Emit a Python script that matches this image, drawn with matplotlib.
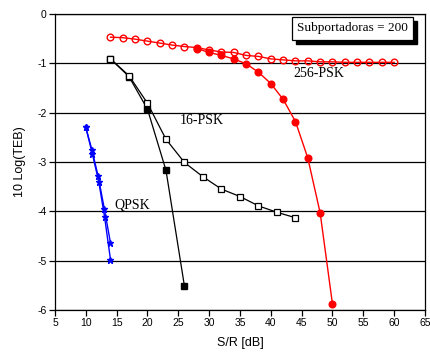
import matplotlib
matplotlib.use("Agg")
import matplotlib.pyplot as plt
from matplotlib.patches import Rectangle

# QPSK (two runs)
qpsk_a_x = [10, 11, 12, 13, 14]
qpsk_a_y = [-2.30, -2.76, -3.29, -3.95, -4.64]
qpsk_b_x = [10, 11.05, 12.1, 13.05, 14]
qpsk_b_y = [-2.30, -2.83, -3.40, -4.12, -4.98]

# 16-PSK
psk16_open_x = [14, 17, 20, 23, 26, 29, 32, 35, 38, 41, 44]
psk16_open_y = [-0.91, -1.25, -1.81, -2.54, -3.01, -3.30, -3.55, -3.70, -3.89, -4.02, -4.13]
psk16_fill_x = [14, 17, 20, 23, 26]
psk16_fill_y = [-0.91, -1.27, -1.93, -3.17, -5.52]

# 256-PSK
psk256_open_x = list(range(14, 61, 2))
psk256_open_y = [-0.47, -0.48, -0.51, -0.55, -0.59, -0.63, -0.66, -0.68, -0.73, -0.77,
                 -0.78, -0.84, -0.86, -0.91, -0.93, -0.95, -0.95, -0.97, -0.97, -0.98,
                 -0.98, -0.98, -0.98, -0.98]
psk256_fill_x = [28, 30, 32, 34, 36, 38, 40, 42, 44, 46, 48, 50]
psk256_fill_y = [-0.70, -0.78, -0.84, -0.91, -1.01, -1.18, -1.41, -1.73, -2.18, -2.92, -4.03, -5.88]

xticks = [5, 10, 15, 20, 25, 30, 35, 40, 45, 50, 55, 60, 65]
yticks = [0, -1, -2, -3, -4, -5, -6]

fig = plt.figure(figsize=(4.31, 3.57), dpi=100)
ax = fig.add_axes([0.1276, 0.1317, 0.8584, 0.8291])
ax.set_xlim(5, 65)
ax.set_ylim(-6, 0)

for yv in yticks:
    ax.axhline(yv, color="black", lw=0.9, zorder=1)

ax.plot(qpsk_a_x, qpsk_a_y, color="blue", marker="*", ms=5, lw=1, zorder=3)
ax.plot(qpsk_b_x, qpsk_b_y, color="blue", marker="*", ms=5, lw=1, zorder=3)

ax.plot(psk16_fill_x, psk16_fill_y, color="black", marker="s", ms=4.5, mfc="black", lw=0.9, zorder=3)
ax.plot(psk16_open_x, psk16_open_y, color="black", marker="s", ms=4.5, mfc="white", mew=0.9, lw=0.9, zorder=4)

ax.plot(psk256_open_x, psk256_open_y, color="red", marker="o", ms=4.8, mfc="none", mew=1, lw=1, zorder=3)
ax.plot(psk256_fill_x, psk256_fill_y, color="red", marker="o", ms=4.8, mfc="red", lw=1, zorder=4)

ax.text(43.6, -1.2, "256-PSK", family="Liberation Serif", fontsize=10, va="center", ha="left")
ax.text(25.3, -2.15, "16-PSK", family="Liberation Serif", fontsize=10, va="center", ha="left")
ax.text(14.7, -3.87, "QPSK", family="Liberation Serif", fontsize=10, va="center", ha="left")

# box with shadow
bx0, by0, bw, bh = 292, 17, 121, 23
H = 357
shadow = Rectangle(((bx0 + 4) / 431, 1 - (by0 + bh + 4) / H), bw / 431, bh / H,
                   transform=fig.transFigure, facecolor="black", edgecolor="black", zorder=5)
box = Rectangle((bx0 / 431, 1 - (by0 + bh) / H), bw / 431, bh / H,
                transform=fig.transFigure, facecolor="white", edgecolor="black", lw=0.9, zorder=6)
fig.add_artist(shadow)
fig.add_artist(box)
fig.text((bx0 + bw / 2) / 431, 1 - (by0 + bh / 2) / H, "Subportadoras = 200",
         family="Liberation Serif", fontsize=9.5, ha="center", va="center", zorder=7)

ax.set_xticks(xticks)
ax.set_yticks(yticks)
ax.set_xticklabels([str(v) for v in xticks], family="Liberation Sans", fontsize=7.5)
ax.set_yticklabels([str(v) for v in yticks], family="Liberation Sans", fontsize=7.5)
ax.tick_params(direction="out", length=4, width=0.9, pad=2)
for s in ax.spines.values():
    s.set_linewidth(0.9)
ax.set_xlabel("S/R [dB]", family="Liberation Sans", fontsize=9, labelpad=6)
ax.set_ylabel("10 Log(TEB)", family="Liberation Sans", fontsize=9, labelpad=8)

fig.savefig("out.png", dpi=100)
